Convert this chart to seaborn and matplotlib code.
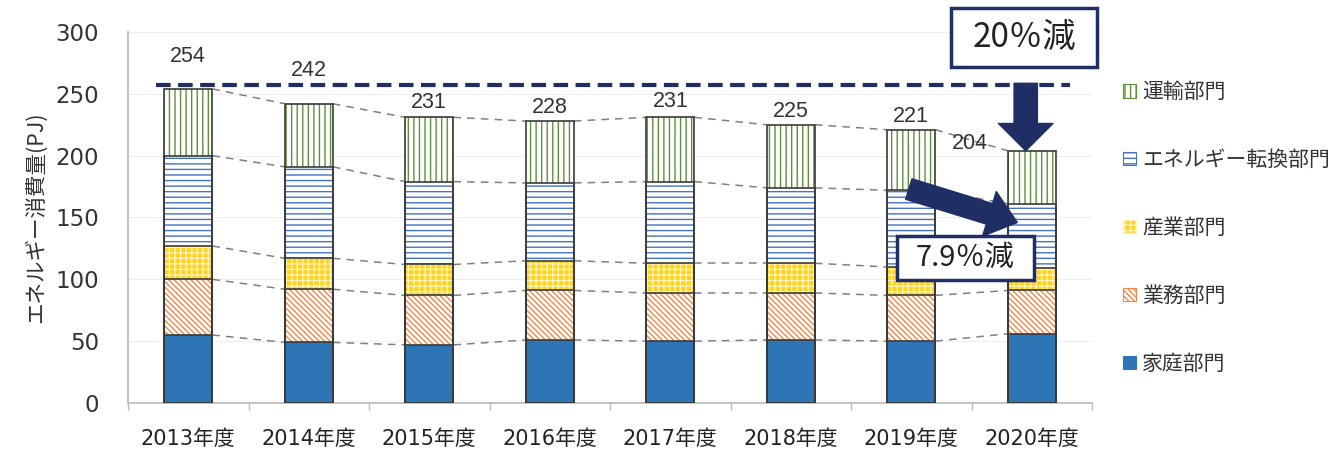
import numpy as np
import seaborn as sns
import matplotlib
import matplotlib.pyplot as plt
from matplotlib.patches import Patch, Rectangle

sns.set_theme(style="white")
plt.rcParams['font.family'] = ['Noto Sans CJK JP', 'DejaVu Sans']
plt.rcParams['hatch.linewidth'] = 1.0

# data (PJ)
years = ["2013年度", "2014年度", "2015年度", "2016年度", "2017年度", "2018年度", "2019年度", "2020年度"]
household = [55, 49, 47, 51, 50, 51, 50, 56]       # 家庭部門
business = [45, 43, 40, 40, 39, 38, 37, 35]        # 業務部門
industry = [27, 25, 25, 24, 24, 24, 23, 18]        # 産業部門
conversion = [73, 74, 67, 63, 66, 61, 62, 52]      # エネルギー転換部門
transport = [54, 51, 52, 50, 52, 51, 49, 43]       # 運輸部門
totals = [254, 242, 231, 228, 231, 225, 221, 204]
target_line = 257

sectors = ["家庭部門", "業務部門", "産業部門", "エネルギー転換部門", "運輸部門"]
layers = np.array([household, business, industry, conversion, transport])
cum = np.cumsum(layers, axis=0)

# face, hatch colour, hatch
styles = [
    ("#2E75B6", "#2E75B6", ""),
    ("white", "#F0884A", "\\\\\\\\\\\\"),
    ("#FFD21F", "#FFF3B8", "+++"),
    ("white", "#4472C4", "---"),
    ("white", "#5E8F3A", "|||"),
]
navy = "#1F2F66"
num_font = ['DejaVu Sans', 'Noto Sans CJK JP']

fig = plt.figure(figsize=(13.41, 4.5), dpi=100)
ax = fig.add_axes([128 / 1341, 1 - 403 / 450, (1092 - 128) / 1341, (403 - 32) / 450])

# stacked bars: draw cumulative heights from the top layer down
for i in range(len(sectors) - 1, -1, -1):
    face, hc, hatch = styles[i]
    sns.barplot(x=years, y=cum[i], color=face, saturation=1, width=0.4,
                edgecolor=hc, linewidth=0, hatch=hatch, ax=ax, zorder=2)
for i in range(len(sectors)):
    sns.barplot(x=years, y=cum[i], color="#3a3a3a", fill=False, width=0.4,
                linewidth=1.2, ax=ax, zorder=3)

# dashed connectors between bars
xs = np.arange(len(years))
for i in range(len(sectors)):
    for j in range(len(years) - 1):
        ax.plot([xs[j] + 0.2, xs[j + 1] - 0.2], [cum[i][j], cum[i][j + 1]],
                color="#808080", lw=1.1, ls=(0, (5, 4)), zorder=1)

# target line
ax.plot([-0.27, 7.32], [target_line, target_line], color=navy, lw=3,
        ls=(0, (3.5, 1.8)), zorder=4)

# totals
label_off = [(0, 32), (0, 33), (0, 15), (0, 14), (0, 16), (0, 13), (0, 13), (-62, 7)]
for j, t in enumerate(totals):
    dx, dy = label_off[j]
    ax.annotate(str(t), (xs[j], t), xytext=(dx, dy), textcoords="offset pixels",
                ha="center", va="center", fontsize=15.5, color="#333333",
                family="Liberation Sans", zorder=6)

ax.set_ylim(0, 300)
ax.set_xlim(-0.5, len(years) - 0.5)
ax.set_yticks(range(0, 301, 50))
ax.set_xticks(np.arange(-0.5, len(years), 1), minor=True)
ax.tick_params(axis="y", labelsize=16.5, colors="#333333", length=5, color="#bbbbbb", pad=16)
ax.tick_params(axis="x", which="major", labelsize=15, colors="#222222", length=0, pad=19)
ax.tick_params(axis="x", which="minor", length=5, color="#bbbbbb", bottom=True)
for lab in ax.get_xticklabels() + ax.get_yticklabels():
    lab.set_family(num_font)
ax.set_ylabel("エネルギー消費量(PJ)", fontsize=15.5, color="#333333", labelpad=6)
ax.set_xlabel("")
ax.grid(axis="y", color="#eeeeee", lw=0.8)
ax.set_axisbelow(True)
for s in ["top", "right"]:
    ax.spines[s].set_visible(False)
for s in ["left", "bottom"]:
    ax.spines[s].set_color("#bbbbbb")

# arrows
ax.annotate("", xy=(6.95, 204), xytext=(6.95, 258.5),
            arrowprops=dict(arrowstyle="simple,head_length=1.4,head_width=2.8,tail_width=1.2",
                            color=navy, shrinkA=0, shrinkB=0, mutation_scale=14), zorder=7)
ax.annotate("", xy=(6.88, 146), xytext=(5.98, 173),
            arrowprops=dict(arrowstyle="simple,head_length=1.5,head_width=2.4,tail_width=1.1",
                            color=navy, shrinkA=0, shrinkB=0, mutation_scale=14), zorder=7)

# text boxes
def box(x0, y0, x1, y1, text, size):
    fig.add_artist(Rectangle((x0 / 1341, 1 - y1 / 450), (x1 - x0) / 1341, (y1 - y0) / 450,
                             transform=fig.transFigure, facecolor="white",
                             edgecolor=navy, lw=2.5, zorder=10))
    fig.text((x0 + x1) / 2 / 1341, 1 - (y0 + y1) / 2 / 450, text, fontsize=size,
             ha="center", va="center", color="#222222", zorder=11)

box(951, 8, 1097, 67, "20％減", 24)
box(897, 236, 1034, 280, "7.9％減", 21)

# legend
handles = [Patch(facecolor=styles[i][0], edgecolor=styles[i][1], hatch=styles[i][2],
                 label=sectors[i]) for i in range(len(sectors) - 1, -1, -1)]
for h in handles:
    h.set_linewidth(0.8)
leg = fig.legend(handles=handles, loc="upper left", bbox_to_anchor=(1115 / 1341, 1 - 73 / 450),
                 frameon=False, fontsize=15, labelspacing=2.2, handlelength=0.6,
                 handleheight=0.6, handletextpad=0.3, borderaxespad=0)
for t in leg.get_texts():
    t.set_color("#333333")

fig.savefig("out.png", dpi=100)
